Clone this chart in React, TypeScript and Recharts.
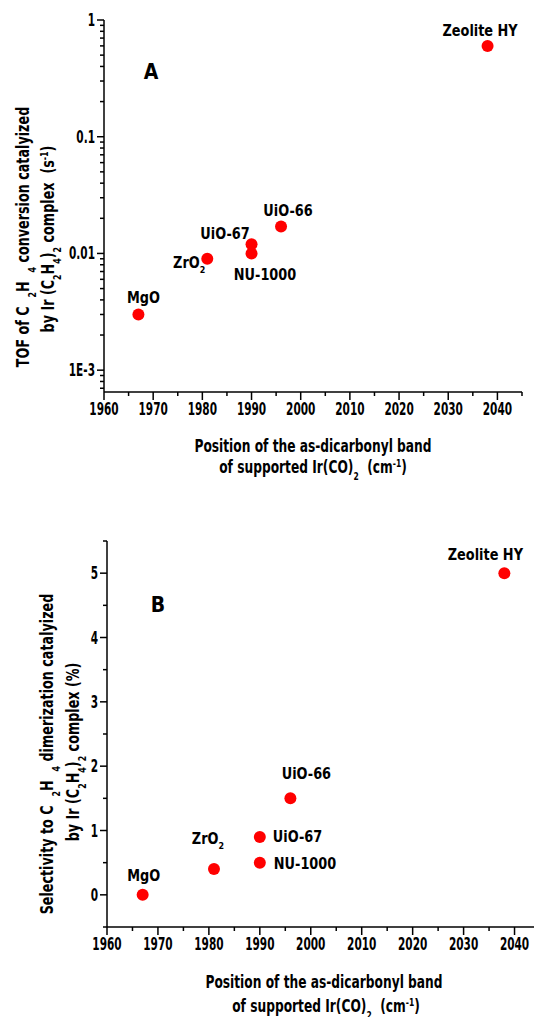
import React from 'react';
import { ScatterChart, Scatter, XAxis, YAxis } from 'recharts';

// supports and their values
const supports = ['MgO', 'ZrO2', 'UiO-67', 'NU-1000', 'UiO-66', 'Zeolite HY'];
const bandPosition = [1967, 1981, 1990, 1990, 1996, 2038];
const tofValues = [0.003, 0.009, 0.012, 0.01, 0.017, 0.6];
const selectivityValues = [0, 0.4, 0.9, 0.5, 1.5, 5];

const xTicks = [1960, 1965, 1970, 1975, 1980, 1985, 1990, 1995, 2000, 2005, 2010, 2015, 2020, 2025, 2030, 2035, 2040, 2045];
const xMajor = [1960, 1970, 1980, 1990, 2000, 2010, 2020, 2030, 2040];

const tofTicks = [
  0.0007, 0.0008, 0.0009, 0.001,
  0.002, 0.003, 0.004, 0.005, 0.006, 0.007, 0.008, 0.009, 0.01,
  0.02, 0.03, 0.04, 0.05, 0.06, 0.07, 0.08, 0.09, 0.1,
  0.2, 0.3, 0.4, 0.5, 0.6, 0.7, 0.8, 0.9, 1,
];
const tofMajor = [0.001, 0.01, 0.1, 1];
const tofLabels = ['1E-3', '0.01', '0.1', '1'];

const selTicks = [-0.5, 0, 0.5, 1, 1.5, 2, 2.5, 3, 3.5, 4, 4.5, 5, 5.5];
const selMajor = [0, 1, 2, 3, 4, 5];

const tofData = supports.map((name, i) => ({ name, x: bandPosition[i], y: tofValues[i] }));
const selData = supports.map((name, i) => ({ name, x: bandPosition[i], y: selectivityValues[i] }));

// where each point label sits relative to its dot
const labelPosA: Record<string, [number, number, string]> = {
  MgO: [5, -11, 'middle'],
  ZrO2: [-2, 9, 'end'],
  'UiO-67': [-26.5, -5, 'middle'],
  'NU-1000': [13.5, 27, 'middle'],
  'UiO-66': [7, -11, 'middle'],
  'Zeolite HY': [-7.5, -10, 'middle'],
};
const labelPosB: Record<string, [number, number, string]> = {
  MgO: [1, -14, 'middle'],
  ZrO2: [-6, -25, 'middle'],
  'UiO-67': [13, 5, 'start'],
  'NU-1000': [14, 6, 'start'],
  'UiO-66': [16, -19, 'middle'],
  'Zeolite HY': [-19, -13, 'middle'],
};

const FONT = "'DejaVu Sans', sans-serif";
const DOT = '#ff0000';
const GAP = '\u00a0 ';

function Txt({ x, y, size, sx, anchor = 'middle', rotate = 0, children }: any) {
  const t = rotate
    ? `translate(${x} ${y}) rotate(${rotate}) scale(${sx} 1)`
    : `translate(${x} ${y}) scale(${sx} 1)`;
  return (
    <text transform={t} x={0} y={0} fontSize={size} fontWeight="bold" fontFamily={FONT} textAnchor={anchor} fill="#000">
      {children}
    </text>
  );
}

const Sub = ({ c }: { c: string }) => <tspan baselineShift="sub" fontSize="62%">{c}</tspan>;
const Sup = ({ c }: { c: string }) => <tspan baselineShift="super" fontSize="62%">{c}</tspan>;

function pointName(name: string) {
  if (name === 'ZrO2') return (<>ZrO<Sub c="2" /></>);
  return name;
}

const makeShape = (pos: Record<string, [number, number, string]>) => (props: any) => {
  const { cx, cy, payload } = props;
  const [dx, dy, anchor] = pos[payload.name];
  return (
    <g>
      <circle cx={cx} cy={cy} r={6} fill={DOT} />
      <Txt x={cx + dx} y={cy + dy} size={15} sx={0.86} anchor={anchor}>{pointName(payload.name)}</Txt>
    </g>
  );
};

const X_TICK = 8;
const Y_TICK = 7;

const XTick = ({ x, y, payload }: any) => {
  const axisY = y - X_TICK;
  const major = xMajor.includes(payload.value);
  return (
    <g>
      <line x1={x} x2={x} y1={axisY} y2={axisY + (major ? 8 : 4)} stroke="#000" strokeWidth={1.5} />
      {major && <Txt x={x} y={axisY + 23} size={17} sx={0.62}>{String(payload.value)}</Txt>}
    </g>
  );
};

const makeYTick = (major: number[], labels: string[]) => ({ x, y, payload }: any) => {
  const axisX = x + Y_TICK;
  const idx = major.findIndex((m) => Math.abs(m - payload.value) < 1e-9);
  return (
    <g>
      <line x1={axisX} x2={axisX - (idx >= 0 ? 7 : 4)} y1={y} y2={y} stroke="#000" strokeWidth={1.5} />
      {idx >= 0 && <Txt x={axisX - 9} y={y + 6} size={17} sx={0.62} anchor="end">{labels[idx]}</Txt>}
    </g>
  );
};

const axisLine = { stroke: '#000', strokeWidth: 1.5 };

export default function App() {
  return (
    <div style={{ position: 'absolute', left: 0, top: 0, width: 534, height: 1017, overflow: 'hidden', background: '#fff' }}>
      <div style={{ position: 'absolute', left: 0, top: 0 }}>
        <ScatterChart width={534} height={420} margin={{ top: 20, right: 12, bottom: 0, left: 0 }}>
          <XAxis
            type="number"
            dataKey="x"
            domain={[1960, 2045]}
            ticks={xTicks}
            interval={0}
            height={28}
            tickSize={X_TICK}
            tickMargin={0}
            tickLine={false}
            axisLine={axisLine}
            tick={<XTick />}
          />
          <YAxis
            type="number"
            dataKey="y"
            scale="log"
            domain={[0.00065, 1]}
            allowDataOverflow
            ticks={tofTicks}
            interval={0}
            width={104}
            tickSize={Y_TICK}
            tickMargin={0}
            tickLine={false}
            axisLine={axisLine}
            tick={makeYTick(tofMajor, tofLabels)}
          />
          <Scatter data={tofData} shape={makeShape(labelPosA)} isAnimationActive={false} />
        </ScatterChart>
      </div>

      <div style={{ position: 'absolute', left: 0, top: 500 }}>
        <ScatterChart width={540} height={460} margin={{ top: 41, right: 0, bottom: 0, left: 0 }}>
          <XAxis
            type="number"
            dataKey="x"
            domain={[1960, 2045]}
            ticks={xTicks}
            interval={0}
            height={33}
            tickSize={X_TICK}
            tickMargin={0}
            tickLine={false}
            axisLine={axisLine}
            tick={<XTick />}
          />
          <YAxis
            type="number"
            dataKey="y"
            domain={[-0.5, 5.5]}
            ticks={selTicks}
            interval={0}
            width={107}
            tickSize={Y_TICK}
            tickMargin={0}
            tickLine={false}
            axisLine={axisLine}
            tick={makeYTick(selMajor, selMajor.map(String))}
          />
          <Scatter data={selData} shape={makeShape(labelPosB)} isAnimationActive={false} />
        </ScatterChart>
      </div>

      <svg width={534} height={1017} style={{ position: 'absolute', left: 0, top: 0, pointerEvents: 'none' }}>
        <Txt x={151} y={79} size={21} sx={0.9}>A</Txt>
        <Txt x={158} y={612} size={21} sx={0.9}>B</Txt>

        <Txt x={313} y={452} size={18} sx={0.68}>Position of the as-dicarbonyl band</Txt>
        <Txt x={313} y={473} size={18} sx={0.68}>of supported Ir(CO)<Sub c="2" />{GAP}(cm<Sup c="-1" />)</Txt>
        <Txt x={324} y={988} size={18} sx={0.68}>Position of the as-dicarbonyl band</Txt>
        <Txt x={326} y={1012} size={18} sx={0.68}>of supported Ir(CO)<Sub c="2" />{GAP}(cm<Sup c="-1" />)</Txt>

        <Txt x={29} y={237} size={17} sx={0.75} rotate={-90}>
          TOF of C{GAP}<Sub c="2" />H{GAP}<Sub c="4" /> conversion catalyized
        </Txt>
        <Txt x={54} y={239} size={17} sx={0.75} rotate={-90}>
          by Ir (C<Sub c="2" />H<Sub c="4" />)<Sub c="2" /> complex{GAP}(s<Sup c="-1" />)
        </Txt>
        <Txt x={53} y={754} size={17} sx={0.75} rotate={-90}>
          Selectivity to C{GAP}<Sub c="2" />H{GAP}<Sub c="4" /> dimerization catalyized
        </Txt>
        <Txt x={79} y={752} size={17} sx={0.75} rotate={-90}>
          by Ir (C<Sub c="2" />H<Sub c="4" />)<Sub c="2" /> complex (%)
        </Txt>
      </svg>
    </div>
  );
}
